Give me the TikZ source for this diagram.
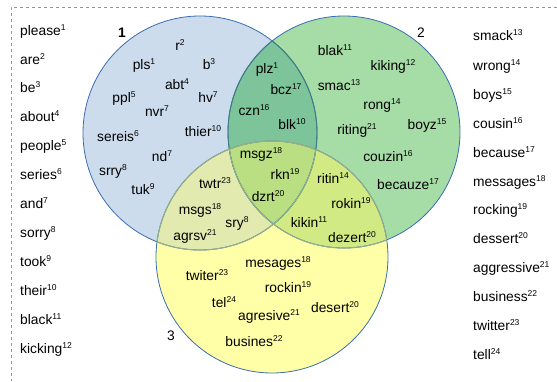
\documentclass[tikz,border=0pt]{standalone}
\usepackage{fontspec}
\setmainfont{Liberation Sans}
\definecolor{cA}{HTML}{CCDCEC}
\definecolor{cB}{HTML}{A6DCA6}
\definecolor{cC}{HTML}{FFFFA8}
\definecolor{cAB}{HTML}{7EC49B}
\definecolor{cAC}{HTML}{E2EAB0}
\definecolor{cBC}{HTML}{D2EA84}
\definecolor{cABC}{HTML}{BADF82}
\definecolor{edge}{HTML}{3B6DB1}
\definecolor{edgeAB}{HTML}{3A7F80}
\definecolor{edgeC}{HTML}{93B088}
\definecolor{frame}{HTML}{6F9BD2}
\newcommand{\wsup}[2]{#1\raisebox{4.6pt}{\fontsize{8.5}{9}\selectfont #2}}
\tikzset{
  wordnode/.style={inner sep=0pt, text height=1.5ex, text depth=0.25ex, font=\fontsize{13.8}{16}\selectfont},
  listnode/.style={wordnode, anchor=west},
  setlabel/.style={inner sep=0pt, font=\fontsize{13.8}{16}\selectfont},
}
\begin{document}
\begin{tikzpicture}[x=1pt,y=-1pt]
\useasboundingbox (0,0) rectangle (557,381);
\def\cA{(200,133) circle (117)}
\def\cB{(344,132) circle (116)}
\def\cC{(272,257) circle (116)}
% fills
\fill[cA] \cA;
\fill[cB] \cB;
\fill[cC] \cC;
\begin{scope}\clip \cA; \fill[cAB] \cB; \end{scope}
\begin{scope}\clip \cA; \fill[cAC] \cC; \end{scope}
\begin{scope}\clip \cB; \fill[cBC] \cC; \end{scope}
\begin{scope}\clip \cA; \clip \cB; \fill[cABC] \cC; \end{scope}
% outlines
\draw[edge, line width=0.8pt] \cA;
\draw[edge, line width=0.8pt] \cB;
\draw[edge, line width=0.8pt] \cC;
\begin{scope}\clip \cB; \draw[edgeAB, line width=0.9pt] \cA; \end{scope}
\begin{scope}\clip \cA; \draw[edgeAB, line width=0.9pt] \cB; \end{scope}
\begin{scope}\clip \cC; \draw[edgeC, line width=1pt] \cA; \draw[edgeC, line width=1pt] \cB; \end{scope}
\begin{scope}\clip \cA; \draw[edgeC, line width=1pt] \cC; \end{scope}
\begin{scope}\clip \cB; \draw[edgeC, line width=1pt] \cC; \end{scope}
% frame
\coordinate (fr0) at (11,7);
\coordinate (fr1) at (557,7);
\coordinate (fr2) at (11,381);
\draw[frame, dashed, dash pattern=on 3pt off 3pt, line width=0.8pt] (fr1) -- (fr0) -- (fr2);
% set labels
\node[setlabel, font=\fontsize{13.8}{16}\selectfont\bfseries] (l1) at (122,33) {1};
\node[setlabel] (l2) at (421,33) {2};
\node[setlabel] (l3) at (171,336) {3};
% left list
\node[listnode] (p1) at (20,32) {\wsup{please}{1}};
\node[listnode] (p2) at (20,61) {\wsup{are}{2}};
\node[listnode] (p3) at (20,89) {\wsup{be}{3}};
\node[listnode] (p4) at (20,118) {\wsup{about}{4}};
\node[listnode] (p5) at (20,147) {\wsup{people}{5}};
\node[listnode] (p6) at (20,176) {\wsup{series}{6}};
\node[listnode] (p7) at (20,205) {\wsup{and}{7}};
\node[listnode] (p8) at (20,234) {\wsup{sorry}{8}};
\node[listnode] (p9) at (20,263) {\wsup{took}{9}};
\node[listnode] (p10) at (20,292) {\wsup{their}{10}};
\node[listnode] (p11) at (20,321) {\wsup{black}{11}};
\node[listnode] (p12) at (20,350) {\wsup{kicking}{12}};
% right list
\node[listnode] (q13) at (473,37) {\wsup{smack}{13}};
\node[listnode] (q14) at (473,67) {\wsup{wrong}{14}};
\node[listnode] (q15) at (473,96) {\wsup{boys}{15}};
\node[listnode] (q16) at (473,125) {\wsup{cousin}{16}};
\node[listnode] (q17) at (473,154) {\wsup{because}{17}};
\node[listnode] (q18) at (473,183) {\wsup{messages}{18}};
\node[listnode] (q19) at (473,211) {\wsup{rocking}{19}};
\node[listnode] (q20) at (473,240) {\wsup{dessert}{20}};
\node[listnode] (q21) at (473,269) {\wsup{aggressive}{21}};
\node[listnode] (q22) at (473,298) {\wsup{business}{22}};
\node[listnode] (q23) at (473,327) {\wsup{twitter}{23}};
\node[listnode] (q24) at (473,356) {\wsup{tell}{24}};
% circle 1 only
\node[wordnode] (a1) at (180,47) {\wsup{r}{2}};
\node[wordnode] (a2) at (144,66) {\wsup{pls}{1}};
\node[wordnode] (a3) at (209,66) {\wsup{b}{3}};
\node[wordnode] (a4) at (177,86) {\wsup{abt}{4}};
\node[wordnode] (a5) at (124,99) {\wsup{ppl}{5}};
\node[wordnode] (a6) at (208,99) {\wsup{hv}{7}};
\node[wordnode] (a7) at (157,113) {\wsup{nvr}{7}};
\node[wordnode] (a8) at (118,138) {\wsup{sereis}{6}};
\node[wordnode] (a9) at (203,133) {\wsup{thier}{10}};
\node[wordnode] (a10) at (162,158) {\wsup{nd}{7}};
\node[wordnode] (a11) at (113,172) {\wsup{srry}{8}};
\node[wordnode] (a12) at (143,191) {\wsup{tuk}{9}};
% circle 1 and 2
\node[wordnode] (ab1) at (267,70) {\wsup{plz}{1}};
\node[wordnode] (ab2) at (286,91) {\wsup{bcz}{17}};
\node[wordnode] (ab3) at (254,112) {\wsup{czn}{16}};
\node[wordnode] (ab4) at (292,126) {\wsup{blk}{10}};
% circle 2 only
\node[wordnode] (b1) at (335,52) {\wsup{blak}{11}};
\node[wordnode] (b2) at (393,67) {\wsup{kiking}{12}};
\node[wordnode] (b3) at (339,87) {\wsup{smac}{13}};
\node[wordnode] (b4) at (382,106) {\wsup{rong}{14}};
\node[wordnode] (b5) at (427,126) {\wsup{boyz}{15}};
\node[wordnode] (b6) at (357,131) {\wsup{riting}{21}};
\node[wordnode] (b7) at (388,158) {\wsup{couzin}{16}};
\node[wordnode] (b8) at (408,186) {\wsup{becauze}{17}};
% all three
\node[wordnode] (abc1) at (261,155) {\wsup{msgz}{18}};
\node[wordnode] (abc2) at (285,176) {\wsup{rkn}{19}};
\node[wordnode] (abc3) at (268,198) {\wsup{dzrt}{20}};
% circle 1 and 3
\node[wordnode] (ac1) at (215,185) {\wsup{twtr}{23}};
\node[wordnode] (ac2) at (200,211) {\wsup{msgs}{18}};
\node[wordnode] (ac3) at (237,224) {\wsup{sry}{8}};
\node[wordnode] (ac4) at (195,237) {\wsup{agrsv}{21}};
% circle 2 and 3
\node[wordnode] (bc1) at (333,180) {\wsup{ritin}{14}};
\node[wordnode] (bc2) at (351,205) {\wsup{rokin}{19}};
\node[wordnode] (bc3) at (309,224) {\wsup{kikin}{11}};
\node[wordnode] (bc4) at (352,239) {\wsup{dezert}{20}};
% circle 3 only
\node[wordnode] (c1) at (278,264) {\wsup{mesages}{18}};
\node[wordnode] (c2) at (207,277) {\wsup{twiter}{23}};
\node[wordnode] (c3) at (288,289) {\wsup{rockin}{19}};
\node[wordnode] (c4) at (224,304) {\wsup{tel}{24}};
\node[wordnode] (c5) at (269,317) {\wsup{agresive}{21}};
\node[wordnode] (c6) at (335,309) {\wsup{desert}{20}};
\node[wordnode] (c7) at (254,343) {\wsup{busines}{22}};
\end{tikzpicture}
\end{document}
